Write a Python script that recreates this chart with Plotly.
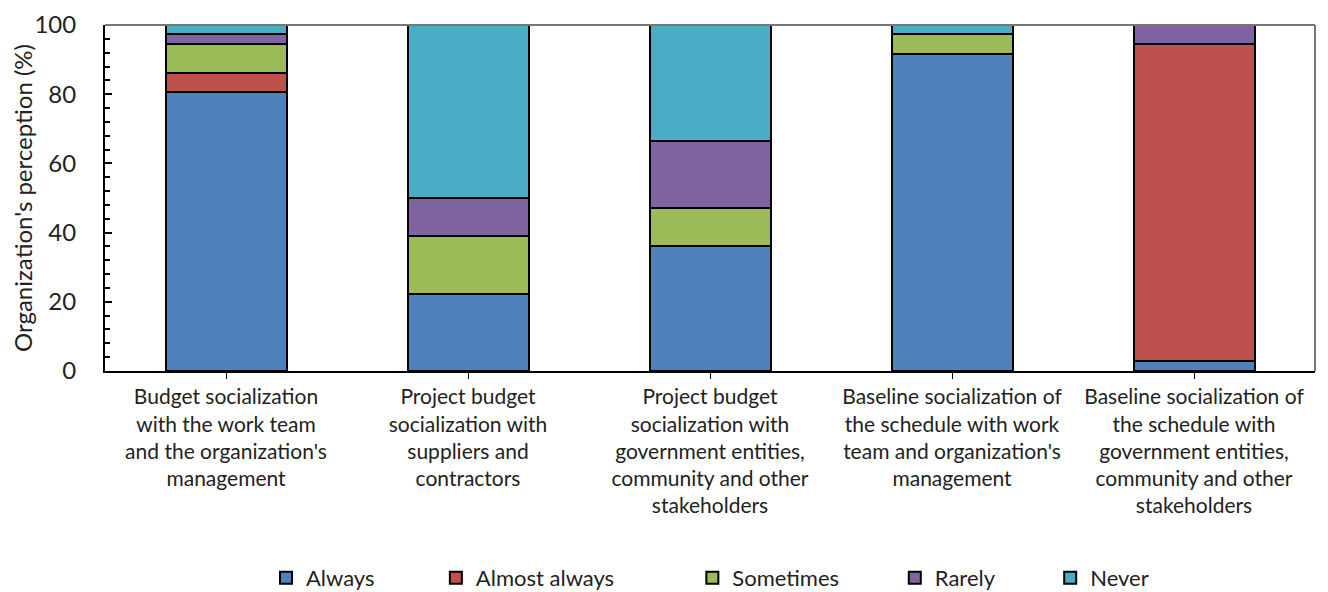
import plotly.graph_objects as go

categories = [
    "Budget socialization<br>with the work team<br>and the organization's<br>management",
    "Project budget<br>socialization with<br>suppliers and<br>contractors",
    "Project budget<br>socialization with<br>government entities,<br>community and other<br>stakeholders",
    "Baseline socialization of<br>the schedule with work<br>team and organization's<br>management",
    "Baseline socialization of<br>the schedule with<br>government entities,<br>community and other<br>stakeholders",
]

always = [80.6, 22.2, 36.1, 91.7, 2.8]
almost_always = [5.6, 0.0, 0.0, 0.0, 91.7]
sometimes = [8.3, 16.7, 11.1, 5.6, 0.0]
rarely = [2.8, 11.1, 19.4, 0.0, 5.6]
never = [2.8, 50.0, 33.3, 2.8, 0.0]

series = [
    ("Always", always, "#4F81BD", 10),
    ("Almost always", almost_always, "#C0504D", 13),
    ("Sometimes", sometimes, "#9BBB59", 9),
    ("Rarely", rarely, "#8064A2", 9),
    ("Never", never, "#4BACC6", 0),
]

FONT = "Lato, 'Open Sans', sans-serif"

fig = go.Figure()
for name, vals, col, pad in series:
    fig.add_trace(go.Bar(
        x=categories, y=vals,
        name=name + "\u00a0" * pad,
        marker=dict(color=col, line=dict(color="black", width=2)),
    ))

# page body adds an 8px offset, so the figure is sized to the visible area
fig.update_layout(
    barmode="stack",
    bargap=0.5,
    width=1320, height=584,
    paper_bgcolor="white", plot_bgcolor="white",
    font=dict(family=FONT, size=21, color="#222"),
    margin=dict(l=97, r=13, t=17, b=221, autoexpand=False),
    legend=dict(
        orientation="h", x=0.5, xanchor="center", y=-0.598, yanchor="middle",
        font=dict(size=22), itemwidth=30, traceorder="normal",
    ),
    xaxis=dict(
        automargin=False,
        showline=True, linecolor="black", linewidth=2,
        ticks="outside", ticklen=6, tickcolor="black", tickwidth=1,
        tickfont=dict(size=21),
    ),
    yaxis=dict(
        automargin=False,
        range=[0, 100], dtick=20, showgrid=False, zeroline=False,
        showline=True, linecolor="black", linewidth=2,
        ticks="inside", ticklen=7, tickcolor="black", tickwidth=2,
        minor=dict(dtick=4, ticks="inside", ticklen=5, tickcolor="black", tickwidth=1.5),
        tickfont=dict(size=24), ticklabelstandoff=22,
        title=dict(text="Organization's perception (%)", font=dict(size=24), standoff=0),
    ),
    shapes=[
        dict(type="line", xref="paper", yref="paper", x0=0, x1=1, y0=1, y1=1,
             line=dict(color="#777", width=2)),
        dict(type="line", xref="paper", yref="paper", x0=1, x1=1, y0=0, y1=1,
             line=dict(color="#777", width=2)),
    ],
)

fig.write_html("out.html")
